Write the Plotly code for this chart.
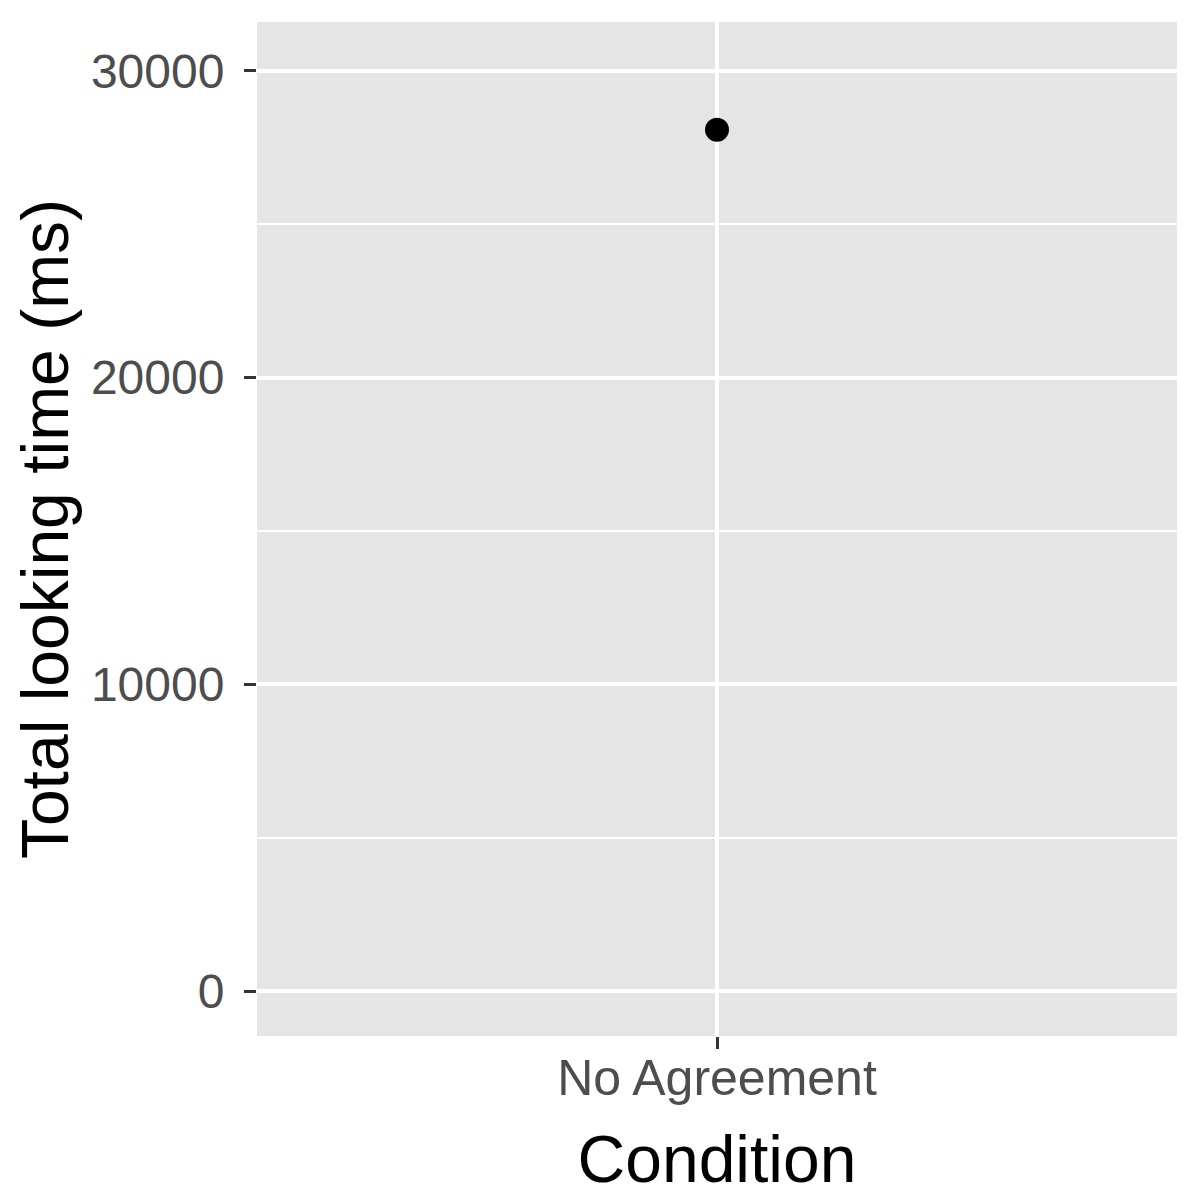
import plotly.graph_objects as go

conditions = ["No Agreement"]
looking_time = [28080]

y_ticks = [0, 10000, 20000, 30000]
y_tick_labels = ["0", "10000", "20000", "30000"]

fig = go.Figure()
fig.add_trace(go.Scatter(
    x=conditions, y=looking_time, mode="markers",
    marker=dict(color="black", size=24, line=dict(width=0)),
    showlegend=False, hoverinfo="skip",
))

font_family = "Liberation Sans, Arial, sans-serif"

fig.update_layout(
    width=1200, height=1200,
    margin=dict(l=249, r=31, t=14, b=172),
    paper_bgcolor="white",
    plot_bgcolor="#E5E5E5",
    font=dict(family=font_family),
    xaxis=dict(
        type="category",
        range=[-0.6, 0.6],
        showgrid=True, gridcolor="white", gridwidth=4,
        ticks="outside", ticklen=12, tickwidth=3, tickcolor="#333333",
        tickfont=dict(size=50, color="#4D4D4D", family=font_family),
        title=dict(text="Condition", font=dict(size=66, color="black", family=font_family), standoff=30),
        zeroline=False, showline=False,
        ticklabelstandoff=-14,
    ),
    yaxis=dict(
        range=[-1464, 31594],
        tickvals=y_ticks, ticktext=y_tick_labels,
        showgrid=True, gridcolor="white", gridwidth=4,
        minor=dict(dtick=5000, tick0=0, showgrid=True, gridcolor="white", gridwidth=2, ticks=""),
        ticks="outside", ticklen=12, tickwidth=3, tickcolor="#333333",
        tickfont=dict(size=48, color="#4D4D4D", family=font_family),
        title=dict(text="Total looking time (ms)", font=dict(size=66, color="black", family=font_family), standoff=18),
        zeroline=False, showline=False,
        ticklabelstandoff=10,
    ),
)

fig.write_html("out.html")
